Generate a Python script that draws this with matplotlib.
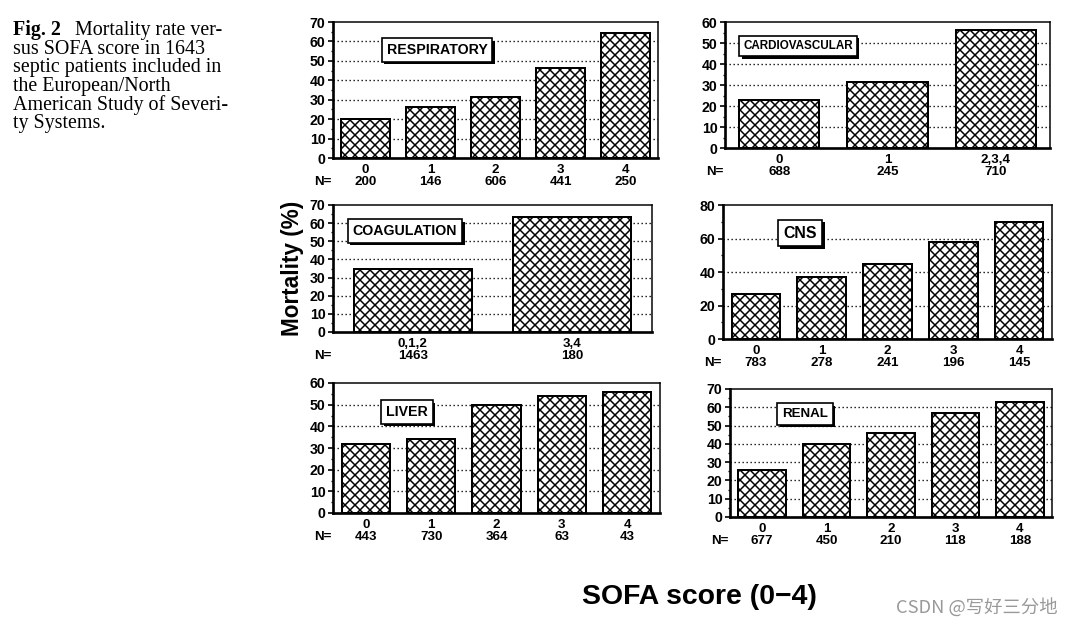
import matplotlib.pyplot as plt
import matplotlib.patheffects as pe
from matplotlib.ticker import MultipleLocator

plt.rcParams['font.family'] = ['Liberation Sans', 'DejaVu Sans']
plt.rcParams['hatch.linewidth'] = 0.9

# mortality (%) per SOFA score for each organ system
resp_labels = ['0', '1', '2', '3', '4']
resp_mort = [20, 26.5, 31.5, 46.5, 64.5]
resp_n = [200, 146, 606, 441, 250]

cardio_labels = ['0', '1', '2,3,4']
cardio_mort = [23, 31.5, 56]
cardio_n = [688, 245, 710]

coag_labels = ['0,1,2', '3,4']
coag_mort = [35, 63.5]
coag_n = [1463, 180]

cns_labels = ['0', '1', '2', '3', '4']
cns_mort = [27, 36.8, 44.8, 57.7, 69.7]
cns_n = [783, 278, 241, 196, 145]

liver_labels = ['0', '1', '2', '3', '4']
liver_mort = [32, 34, 50, 54, 56]
liver_n = [443, 730, 364, 63, 43]

renal_labels = ['0', '1', '2', '3', '4']
renal_mort = [25.5, 40, 46, 56.7, 63]
renal_n = [677, 450, 210, 118, 188]

W, H = 1079, 627
DPI = 120
fig = plt.figure(figsize=(W / DPI, H / DPI), dpi=DPI)

# name, labels, values, counts, ymax, ystep, axes box (l, t, r, b px), title centre px, title size
panels = [
    ('RESPIRATORY', resp_labels, resp_mort, resp_n, 70, 10, (333, 22, 658, 158), (437, 50), 8.5),
    ('CARDIOVASCULAR', cardio_labels, cardio_mort, cardio_n, 60, 10, (725, 22, 1050, 148), (798, 46), 7),
    ('COAGULATION', coag_labels, coag_mort, coag_n, 70, 10, (333, 205, 652, 332), (405, 231), 8.5),
    ('CNS', cns_labels, cns_mort, cns_n, 80, 20, (723, 205, 1052, 339), (800, 233), 9.5),
    ('LIVER', liver_labels, liver_mort, liver_n, 60, 10, (333, 383, 660, 513), (407, 412), 8.5),
    ('RENAL', renal_labels, renal_mort, renal_n, 70, 10, (730, 389, 1052, 517), (805, 414), 8),
]

for name, labels, mort, counts, ymax, ystep, box, tpos, tsize in panels:
    l, t, r, b = box
    ax = fig.add_axes([l / W, 1 - b / H, (r - l) / W, (b - t) / H])
    x = list(range(len(labels)))
    ax.bar(x, mort, width=0.74, color='white', edgecolor='black',
           linewidth=1.2, hatch='xxxx', zorder=3)
    ax.set_xlim(-0.5, len(labels) - 0.5)
    ax.set_ylim(0, ymax)
    ax.yaxis.set_major_locator(MultipleLocator(ystep))
    ax.yaxis.set_minor_locator(MultipleLocator(ystep / 2))
    for yv in range(ystep, ymax, ystep):
        ax.axhline(yv, color='black', lw=0.8, ls=(0, (1, 2)), zorder=1)
    ax.set_xticks(x)
    ax.set_xticklabels(labels, fontsize=8, fontweight='bold')
    ax.tick_params(axis='x', length=0, pad=3.5)
    ax.tick_params(axis='y', which='major', length=3, width=1, pad=1.5,
                   labelsize=8.5)
    ax.tick_params(axis='y', which='minor', length=1.5, width=0.8)
    for lab in ax.get_yticklabels():
        lab.set_fontweight('bold')
    for side in ['top', 'right']:
        ax.spines[side].set_linewidth(0.9)
    for side in ['left', 'bottom']:
        ax.spines[side].set_linewidth(1.6)
    # N= row
    for xi, n in zip(x, counts):
        ax.annotate(str(n), xy=(xi, 0), xycoords=('data', 'axes fraction'),
                    xytext=(0, -14.5), textcoords='offset points',
                    ha='center', va='center', fontsize=8, fontweight='bold')
    ax.annotate('N=', xy=(0, 0), xycoords='axes fraction',
                xytext=(-6, -14.5), textcoords='offset points',
                ha='center', va='center', fontsize=8, fontweight='bold')
    # panel title box with shadow
    txt = fig.text(tpos[0] / W, 1 - tpos[1] / H, name, ha='center', va='center',
                   fontsize=tsize, fontweight='bold', zorder=10,
                   bbox=dict(boxstyle='square,pad=0.35', fc='white',
                             ec='black', lw=1))
    txt.get_bbox_patch().set_path_effects([
        pe.SimplePatchShadow(offset=(1.5, -1.5), shadow_rgbFace='black', alpha=1),
        pe.Normal()])

fig.text(292 / W, 1 - 268 / H, 'Mortality (%)', rotation=90, ha='center',
         va='center', fontsize=13.5, fontweight='bold')
fig.text(699 / W, 1 - 597 / H, 'SOFA score (0\u22124)', ha='center',
         va='center', fontsize=17, fontweight='bold')

# figure caption
cap_lines = ['Mortality rate ver-', 'sus SOFA score in 1643',
             'septic patients included in', 'the European/North',
             'American Study of Severi-', 'ty Systems.']
for i, line in enumerate(cap_lines):
    yy = 1 - (30.5 + i * 18.6) / H
    if i == 0:
        fig.text(13 / W, yy, 'Fig. 2', ha='left', va='center',
                 fontsize=12, fontweight='bold', family='Liberation Serif')
        fig.text(75 / W, yy, line, ha='left', va='center', fontsize=12,
                 family='Liberation Serif')
    else:
        fig.text(13 / W, yy, line, ha='left', va='center', fontsize=12,
                 family='Liberation Serif')

fig.text(977 / W, 1 - 608 / H, 'CSDN @写好三分地', ha='center', va='center',
         fontsize=11, color='#999999', family=['Noto Sans CJK SC', 'DejaVu Sans'])

fig.savefig('out.png', dpi=DPI)
